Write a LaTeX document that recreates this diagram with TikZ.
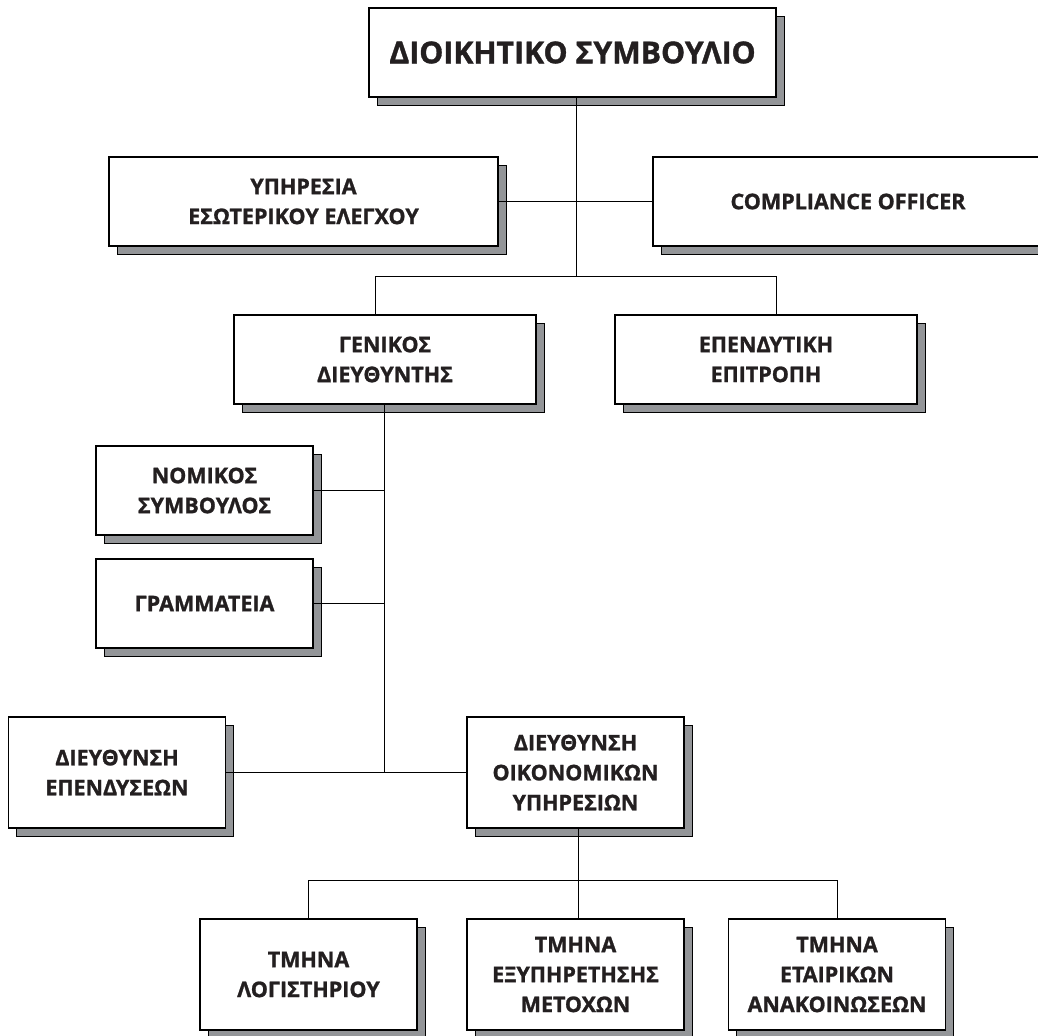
\documentclass[tikz,border=0pt]{standalone}
\usepackage{fontspec}
\setsansfont{Open Sans}[BoldFeatures={FakeBold=1.2}]
\usepackage{xcolor}
\usetikzlibrary{shadows}
\definecolor{shadowgray}{RGB}{147,149,152}
\definecolor{inkblack}{RGB}{35,31,32}
\def\pxu{0.025cm}

\begin{document}
\begin{tikzpicture}[x=0.025cm, y=-0.025cm, line width=0.7pt]
    \tikzstyle{unit} = [rectangle, draw, line width=0.9pt, fill=white, text=inkblack, align=center, inner sep=0pt, minimum width=217*\pxu, minimum height=89*\pxu, font=\sffamily\bfseries\fontsize{15.3}{21.3}\selectfont, drop shadow={shadow xshift=0.2cm, shadow yshift=-0.2cm, fill=shadowgray, draw=black, line width=0.6pt, opacity=1}]
    \tikzstyle{tall unit} = [unit, minimum height=111*\pxu]
    \useasboundingbox (0,0) rectangle (1038,1035);
    \clip (0,0) rectangle (1038,1035);
    \node[unit, minimum width=407*\pxu, font=\sffamily\bfseries\fontsize{21.5}{24}\selectfont] (board) at (572.5,52.5) {ΔΙΟΙΚΗΤΙΚΟ ΣΥΜΒΟΥΛΙΟ};
    \node[unit, minimum width=389*\pxu] (audit) at (303.5,201.5) {ΥΠΗΡΕΣΙΑ\\ΕΣΩΤΕΡΙΚΟΥ ΕΛΕΓΧΟΥ};
    \node[unit, minimum width=390*\pxu] (compliance) at (848,201.5) {COMPLIANCE OFFICER};
    \node[unit, minimum width=302*\pxu] (gm) at (385,359.5) {ΓΕΝΙΚΟΣ\\ΔΙΕΥΘΥΝΤΗΣ};
    \node[unit, minimum width=302*\pxu] (committee) at (766,359.5) {ΕΠΕΝΔΥΤΙΚΗ\\ΕΠΙΤΡΟΠΗ};
    \node[unit] (legal) at (204.5,490.5) {ΝΟΜΙΚΟΣ\\ΣΥΜΒΟΥΛΟΣ};
    \node[unit] (secretariat) at (204.5,603.5) {ΓΡΑΜΜΑΤΕΙΑ};
    \node[tall unit] (investdept) at (117,772.5) {ΔΙΕΥΘΥΝΣΗ\\ΕΠΕΝΔΥΣΕΩΝ};
    \node[tall unit] (finance) at (575.5,772.5) {ΔΙΕΥΘΥΝΣΗ\\ΟΙΚΟΝΟΜΙΚΩΝ\\ΥΠΗΡΕΣΙΩΝ};
    \node[tall unit] (accounting) at (308.5,974.5) {ΤΜΗΝΑ\\ΛΟΓΙΣΤΗΡΙΟΥ};
    \node[tall unit] (shareholders) at (575.5,974.5) {ΤΜΗΝΑ\\ΕΞΥΠΗΡΕΤΗΣΗΣ\\ΜΕΤΟΧΩΝ};
    \node[tall unit] (corporate) at (837,974.5) {ΤΜΗΝΑ\\ΕΤΑΙΡΙΚΩΝ\\ΑΝΑΚΟΙΝΩΣΕΩΝ};
    \coordinate (bus1) at (576,276);
    \coordinate (gmdrop) at (375,276);
    \coordinate (icdrop) at (776,276);
    \coordinate (spine) at (384,772);
    \coordinate (bus2) at (578,880);
    \draw (board.south -| bus1) -- (bus1);
    \draw (audit.east) -- (compliance.west);
    \draw (gmdrop |- gm.north) |- (icdrop) -- (icdrop |- committee.north);
    \draw (spine |- gm.south) -- (spine);
    \draw (legal.east) -- (legal.east -| spine);
    \draw (secretariat.east) -- (secretariat.east -| spine);
    \draw (investdept.east) -- (finance.west);
    \draw (finance.south -| bus2) -- (bus2 |- shareholders.north);
    \draw (accounting.north) |- (bus2) -| (corporate.north);
\end{tikzpicture}
\end{document}
